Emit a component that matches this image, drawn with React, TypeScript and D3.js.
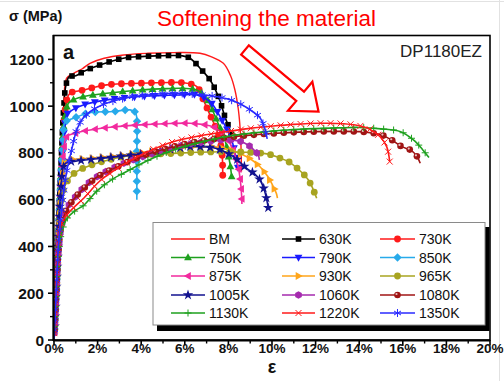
import React, { useEffect, useRef } from "react";
import * as d3 from "d3";

// ---------- data (strain %, stress MPa) ----------
const BM: [number, number][] = [[0,0],[0.15,350],[0.3,700],[0.45,1000],[0.58,1120],[0.9,1140],[1.3,1160],[1.65,1183],[2.3,1205],[3.2,1219],[4.3,1226],[5.5,1229],[6.7,1226],[7.2,1212],[7.77,1183],[8.1,1130],[8.3,1069],[8.45,990],[8.52,927],[8.57,850],[8.6,720]];
const K630: [number, number][] = [[0,0],[0.15,350],[0.3,700],[0.45,1000],[0.55,1090],[0.7,1126],[1.0,1130],[1.35,1148],[2.1,1176],[3.18,1205],[4.0,1212],[4.7,1215],[5.9,1215],[6.24,1205],[6.77,1155],[7.16,1112],[7.54,1041],[7.84,955],[8.07,898],[8.2,850]];
const K730: [number, number][] = [[0,0],[0.15,330],[0.3,650],[0.45,930],[0.6,1030],[0.73,1055],[1.35,1069],[2.42,1091],[3.94,1098],[5.3,1101],[5.93,1100],[6.55,1084],[6.85,1027],[7.16,962],[7.46,898],[7.69,813],[7.74,698]];
const K750: [number, number][] = [[0,0],[0.15,330],[0.3,650],[0.45,920],[0.6,1000],[0.73,1019],[1.35,1041],[2.42,1055],[3.94,1069],[5.2,1075],[5.93,1076],[6.55,1069],[7.0,1033],[7.46,941],[7.84,855],[8.07,755],[8.15,698]];
const K790: [number, number][] = [[0,0],[0.15,330],[0.3,640],[0.45,880],[0.58,962],[0.73,977],[1.35,1005],[2.42,1027],[3.94,1041],[5.78,1048],[6.55,1048],[7.16,1019],[7.7,941],[8.15,855],[8.38,763],[8.45,727]];
const K850: [number, number][] = [[0,0],[0.15,330],[0.3,640],[0.42,860],[0.5,930],[0.89,948],[1.65,972],[2.72,977],[3.49,984],[3.72,975],[3.79,955],[3.8,800],[3.8,627],[3.8,600]];
const K875: [number, number][] = [[0,0],[0.15,320],[0.3,620],[0.45,820],[0.58,870],[1.0,885],[1.65,898],[2.8,912],[3.94,920],[5.1,925],[6.24,927],[6.8,922],[7.3,912],[7.7,885],[8.07,841],[8.3,790],[8.45,741],[8.55,680],[8.6,627],[8.62,582]];
const K930: [number, number][] = [[0,0],[0.15,300],[0.3,600],[0.45,740],[0.58,770],[1.0,773],[1.65,777],[2.4,783],[3.18,791],[4.3,805],[5.47,820],[6.4,825],[7.3,827],[8.0,815],[8.53,798],[9.0,775],[9.45,741],[9.8,700],[10.06,656],[10.2,627],[10.25,607]];
const K965: [number, number][] = [[0,0],[0.15,300],[0.3,560],[0.5,660],[0.89,710],[1.35,735],[2.0,757],[3.18,784],[4.3,794],[5.47,798],[6.6,803],[7.77,805],[8.8,803],[9.83,795],[10.3,780],[10.75,763],[11.2,731],[11.67,684],[12.05,606]];
const K1005: [number, number][] = [[0,0],[0.15,320],[0.3,620],[0.45,745],[0.6,760],[1.0,765],[2.0,775],[3.0,785],[4.0,795],[5.0,810],[6.24,827],[7.0,825],[7.46,819],[8.23,784],[8.84,734],[9.2,710],[9.45,684],[9.65,640],[9.76,599],[9.83,563]];
const K1060: [number, number][] = [[0,0],[0.1,200],[0.2,380],[0.35,490],[0.6,565],[1.0,615],[1.5,665],[2.0,700],[3.0,748],[4.0,782],[5.0,808],[6.0,835],[7.0,848],[7.6,855],[8.0,856],[8.53,850],[8.9,834],[9.2,810],[9.37,791],[9.42,770]];
const K1080: [number, number][] = [[0,0],[0.1,200],[0.2,380],[0.35,495],[0.6,560],[1.0,612],[1.5,660],[2.0,698],[3.0,745],[4.0,785],[5.0,815],[6.0,838],[7.0,855],[8.0,867],[9.0,876],[10.0,883],[11.0,888],[12.0,891],[13.0,892],[14.0,891],[14.6,885],[15.03,877],[15.5,855],[15.95,827],[16.4,810],[16.65,785],[16.8,756]];
const K1130: [number, number][] = [[0,0],[0.1,190],[0.2,360],[0.35,460],[0.6,520],[1.0,555],[1.35,575],[2.0,640],[2.72,690],[3.18,713],[4.3,768],[5.47,813],[6.7,845],[7.92,870],[9.3,887],[10.7,898],[12.0,904],[13.0,907],[14.0,909],[15.0,903],[15.9,891],[16.5,855],[16.9,815],[17.2,780]];
const K1220: [number, number][] = [[0,0],[0.1,200],[0.2,400],[0.35,500],[0.73,550],[1.35,605],[2.1,680],[2.72,722],[3.18,750],[4.3,805],[5.47,848],[6.7,873],[7.92,891],[9.0,905],[10.06,915],[11.0,922],[12.2,927],[13.3,925],[14.2,912],[14.6,895],[14.95,870],[15.26,827],[15.4,763]];
const K1350: [number, number][] = [[0,0],[0.1,200],[0.2,400],[0.4,600],[0.6,730],[0.81,813],[1.04,898],[1.3,945],[1.65,976],[2.2,1005],[3.18,1033],[4.3,1048],[5.47,1055],[6.7,1050],[7.5,1040],[8.0,1030],[8.53,1010],[9.14,975],[9.45,950],[9.65,910],[9.78,860]];

const seriesNames = ["BM","630K","730K","750K","790K","850K","875K","930K","965K","1005K","1060K","1080K","1130K","1220K","1350K"];
const seriesData = [BM,K630,K730,K750,K790,K850,K875,K930,K965,K1005,K1060,K1080,K1130,K1220,K1350];

const xTicks = [0,2,4,6,8,10,12,14,16,18,20];
const xMinor = [1,3,5,7,9,11,13,15,17,19];
const yTicks = [0,200,400,600,800,1000,1200];
const yMinor = [100,300,500,700,900,1100];

// ---------- styles ----------
const styles = [
  { color: "#ff1a1a", marker: "none" },
  { color: "#000000", marker: "square" },
  { color: "#ff1a1a", marker: "circle" },
  { color: "#1ea01e", marker: "triUp" },
  { color: "#1a1aff", marker: "triDown" },
  { color: "#27aaea", marker: "diamond" },
  { color: "#f22a9e", marker: "triLeft" },
  { color: "#ffa51a", marker: "triRight" },
  { color: "#a8a420", marker: "circle" },
  { color: "#12128f", marker: "star" },
  { color: "#a52aae", marker: "hexagon" },
  { color: "#a01414", marker: "sphere" },
  { color: "#1ea01e", marker: "plus" },
  { color: "#ff1a1a", marker: "cross" },
  { color: "#2a2aff", marker: "asterisk" },
];

const FONT = "'Liberation Sans', Arial, Helvetica, sans-serif";

function drawMarker(g: any, type: string, x: number, y: number, color: string) {
  const m = g.append("g").attr("transform", `translate(${x},${y})`);
  const poly = (d: string) => m.append("path").attr("d", d).attr("fill", color);
  const strokePath = (d: string) => m.append("path").attr("d", d).attr("fill", "none").attr("stroke", color).attr("stroke-width", 1);
  switch (type) {
    case "square":
      m.append("rect").attr("x", -2.8).attr("y", -2.8).attr("width", 5.6).attr("height", 5.6).attr("fill", color);
      break;
    case "circle":
      m.append("circle").attr("r", 3.4).attr("fill", color);
      break;
    case "triUp": poly("M0,-4.2L3.9,2.8L-3.9,2.8Z"); break;
    case "triDown": poly("M0,4.2L3.9,-2.8L-3.9,-2.8Z"); break;
    case "diamond": poly("M0,-4.2L4.2,0L0,4.2L-4.2,0Z"); break;
    case "triLeft": poly("M-4.2,0L2.8,-3.9L2.8,3.9Z"); break;
    case "triRight": poly("M4.2,0L-2.8,-3.9L-2.8,3.9Z"); break;
    case "star":
      poly(d3.symbol(d3.symbolStar, 34)() as string);
      break;
    case "hexagon": {
      const pts = d3.range(6).map((i) => {
        const a = (Math.PI / 3) * i + Math.PI / 6;
        return [3.8 * Math.cos(a), 3.8 * Math.sin(a)];
      });
      poly("M" + pts.map((p) => p.join(",")).join("L") + "Z");
      break;
    }
    case "sphere":
      m.append("circle").attr("r", 3.3).attr("fill", color);
      m.append("circle").attr("cx", -1).attr("cy", -1).attr("r", 1.1).attr("fill", "#ffffff").attr("opacity", 0.75);
      break;
    case "plus": strokePath("M-3.5,0H3.5M0,-3.5V3.5"); break;
    case "cross": strokePath("M-3,-3L3,3M-3,3L3,-3"); break;
    case "asterisk": strokePath("M0,-4V4M-3.5,-2L3.5,2M-3.5,2L3.5,-2"); break;
  }
}

export default function App() {
  const ref = useRef<SVGSVGElement | null>(null);

  useEffect(() => {
    document.body.style.margin = "0";
    const svg = d3.select(ref.current);
    svg.selectAll("*").remove();

    const x = d3.scaleLinear().domain([0, 20]).range([54, 490]);
    const y = d3.scaleLinear().domain([0, 1300]).range([340, 36]);

    svg.append("rect").attr("width", 504).attr("height", 381).attr("fill", "#ffffff");
    svg.append("line").attr("x1", 0).attr("x2", 504).attr("y1", 1.5).attr("y2", 1.5).attr("stroke", "#e2e2e2");
    svg.append("line").attr("x1", 499.5).attr("x2", 499.5).attr("y1", 0).attr("y2", 381).attr("stroke", "#e2e2e2");

    const defs = svg.append("defs");
    defs.append("clipPath").attr("id", "plotclip").append("rect")
      .attr("x", 53).attr("y", 36).attr("width", 437).attr("height", 305);

    const line = d3.line<[number, number]>()
      .x((d) => x(d[0]))
      .y((d) => y(d[1]))
      .curve(d3.curveCatmullRom.alpha(0.5));

    const plot = svg.append("g").attr("clip-path", "url(#plotclip)");
    seriesData.forEach((data, i) => {
      const st = styles[i];
      const path = plot.append("path")
        .attr("d", line(data) as string)
        .attr("fill", "none")
        .attr("stroke", st.color)
        .attr("stroke-width", i === 0 ? 1.4 : 1.6);
      if (st.marker !== "none") {
        const node = path.node() as SVGPathElement;
        const len = node.getTotalLength();
        const spacing = 10;
        for (let l = 4 + ((i * 3.3) % spacing); l <= len; l += spacing) {
          const p = node.getPointAtLength(l);
          drawMarker(plot, st.marker, p.x, p.y, st.color);
        }
      }
    });

    // frame
    svg.append("rect").attr("x", 53.5).attr("y", 35.5).attr("width", 436.5).attr("height", 304.5)
      .attr("fill", "none").attr("stroke", "#000").attr("stroke-width", 1.6);
    svg.append("line").attr("x1", 53.5).attr("x2", 53.5).attr("y1", 35).attr("y2", 341)
      .attr("stroke", "#000").attr("stroke-width", 2);
    svg.append("line").attr("x1", 53).attr("x2", 490).attr("y1", 340.5).attr("y2", 340.5)
      .attr("stroke", "#000").attr("stroke-width", 2);

    const ax = svg.append("g");
    yTicks.forEach((t) => {
      ax.append("line").attr("x1", 48).attr("x2", 53).attr("y1", y(t)).attr("y2", y(t)).attr("stroke", "#000").attr("stroke-width", 1.6);
      ax.append("text").attr("x", 44).attr("y", y(t) + 5.5).attr("text-anchor", "end")
        .attr("font-family", FONT).attr("font-weight", "bold").attr("font-size", 15.5).attr("fill", "#111").text(String(t));
    });
    yMinor.forEach((t) => {
      ax.append("line").attr("x1", 50).attr("x2", 53).attr("y1", y(t)).attr("y2", y(t)).attr("stroke", "#000").attr("stroke-width", 1.4);
    });
    xTicks.forEach((t) => {
      ax.append("line").attr("x1", x(t)).attr("x2", x(t)).attr("y1", 340).attr("y2", 345.5).attr("stroke", "#000").attr("stroke-width", 1.6);
      ax.append("text").attr("x", x(t)).attr("y", 353).attr("text-anchor", "middle")
        .attr("font-family", FONT).attr("font-weight", "bold").attr("font-size", 13.5).attr("fill", "#111").text(t + "%");
    });
    xMinor.forEach((t) => {
      ax.append("line").attr("x1", x(t)).attr("x2", x(t)).attr("y1", 340).attr("y2", 343.5).attr("stroke", "#000").attr("stroke-width", 1.4);
    });

    svg.append("text").attr("x", 272).attr("y", 373).attr("text-anchor", "middle")
      .attr("font-family", FONT).attr("font-weight", "bold").attr("font-size", 18).attr("fill", "#111").text("ε");
    svg.append("text").attr("x", 9).attr("y", 20.5)
      .attr("font-family", FONT).attr("font-weight", "bold").attr("font-size", 14.5).attr("fill", "#111").text("σ (MPa)");
    svg.append("text").attr("x", 266.5).attr("y", 26).attr("text-anchor", "middle")
      .attr("font-family", FONT).attr("font-size", 22.5).attr("fill", "#ff0000").text("Softening the material");
    svg.append("text").attr("x", 63).attr("y", 59)
      .attr("font-family", FONT).attr("font-weight", "bold").attr("font-size", 20).attr("fill", "#111").text("a");
    svg.append("text").attr("x", 482).attr("y", 57.3).attr("text-anchor", "end")
      .attr("font-family", FONT).attr("font-size", 17).attr("fill", "#222").text("DP1180EZ");

    // hollow arrow
    const ang = (40 * Math.PI) / 180;
    const ux = Math.cos(ang), uy = Math.sin(ang);
    const px = -uy, py = ux;
    const sx = 245, sy = 50, L = 96, sw = 6, hw = 19, hl = 24;
    const P = (a: number, b: number) => [sx + ux * a + px * b, sy + uy * a + py * b].join(",");
    const arrow = [P(0, -sw), P(L - hl, -sw), P(L - hl, -hw), P(L, 0), P(L - hl, hw), P(L - hl, sw), P(0, sw)];
    svg.append("path").attr("d", "M" + arrow.join("L") + "Z")
      .attr("fill", "#fff").attr("stroke", "#ff0000").attr("stroke-width", 2.2);

    // legend
    const lg = svg.append("g");
    lg.append("rect").attr("x", 157).attr("y", 227).attr("width", 332.5).attr("height", 104).attr("fill", "#000");
    lg.append("rect").attr("x", 153).attr("y", 222.5).attr("width", 332).attr("height", 102.5)
      .attr("fill", "#fff").attr("stroke", "#8a8a8a").attr("stroke-width", 1);
    const colStart = [171, 282, 380];
    const colEnd = [205, 315, 415];
    const rowY = [239, 257.5, 276, 295, 313];
    seriesNames.forEach((name, i) => {
      const c = i % 3, r = Math.floor(i / 3);
      const yy = rowY[r];
      lg.append("line").attr("x1", colStart[c]).attr("x2", colEnd[c]).attr("y1", yy).attr("y2", yy)
        .attr("stroke", styles[i].color).attr("stroke-width", 1.6);
      if (styles[i].marker !== "none") drawMarker(lg, styles[i].marker, (colStart[c] + colEnd[c]) / 2, yy, styles[i].color);
      lg.append("text").attr("x", colEnd[c] + 4).attr("y", yy + 5.2)
        .attr("font-family", FONT).attr("font-size", 14).attr("fill", "#111").text(name);
    });
  }, []);

  return <svg ref={ref} width={504} height={381} style={{ display: "block" }} />;
}
